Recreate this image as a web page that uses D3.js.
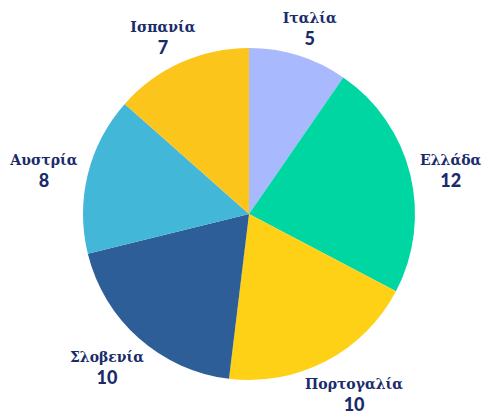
<!DOCTYPE html>
<html><head><meta charset="utf-8">
<script src="https://cdn.jsdelivr.net/npm/d3@7"></script>
<style>body{margin:0;background:#fff;}</style>
</head><body>
<svg id="chart" width="484" height="419"></svg>
<script>
const categories = ["Ιταλία","Ελλάδα","Πορτογαλία","Σλοβενία","Αυστρία","Ισπανία"];
const values = [5,12,10,10,8,7];
const colors = ["#a9b9fd","#00d6a2","#fed016","#2e5e98","#43b7d8","#fcc51c"];

const svg = d3.select("#chart");
const cx = 249, cy = 214, R = 166, AR = 177;
const data = categories.map((c,i)=>({name:c, value:values[i], color:colors[i]}));
const pie = d3.pie().value(d=>d.value).sort(null);
const arcs = pie(data);
const arc = d3.arc().innerRadius(0).outerRadius(R);
const g = svg.append("g").attr("transform",`translate(${cx},${cy})`);
g.selectAll("path").data(arcs).enter().append("path")
  .attr("d",arc).attr("fill",d=>d.data.color);
const lab = g.selectAll("g.lab").data(arcs).enter().append("g");
lab.append("text").attr("text-anchor","middle").attr("y",-5)
  .style("font-family","'DejaVu Serif', serif").style("font-weight","bold")
  .style("font-size","14px").attr("fill","#1a2b6a").text(d=>d.data.name);
lab.append("text").attr("text-anchor","middle").attr("y",17)
  .style("font-family","Lato, 'DejaVu Sans', sans-serif").style("font-weight","900")
  .style("font-size","18px").attr("fill","#1a2b6a").text(d=>d.data.value);
lab.attr("transform",function(d){
  const a=(d.startAngle+d.endAngle)/2;
  const s=Math.sin(a), c=Math.cos(a);
  const w=this.getBBox().width, h=44;
  const x=AR*s + s*w/2, y=-AR*c - c*h/2 + 4;
  return `translate(${x},${y})`;
});
</script>
</body></html>
